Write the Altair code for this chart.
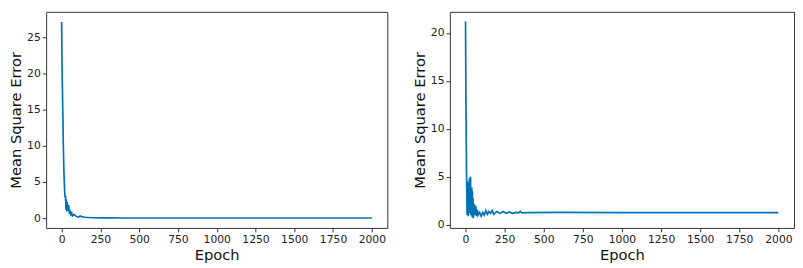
import altair as alt
import pandas as pd

# Left panel: Mean Square Error per epoch
left_epoch = [0, 2, 5, 8, 11, 14, 17, 20, 22, 25, 28, 30, 33, 36, 40, 45, 50, 55,
              60, 65, 70, 80, 90, 100, 110, 120, 130, 150, 200, 250, 300, 400, 2000]
left_mse = [27.1, 22.0, 18.0, 14.0, 10.0, 7.0, 5.0, 3.5, 2.8, 3.1, 1.2, 2.6, 0.9,
            2.2, 1.0, 1.8, 0.6, 0.9, 0.5, 0.7, 0.3, 0.5, 0.3, 0.2, 0.15, 0.3, 0.2,
            0.12, 0.05, 0.03, 0.02, 0.01, 0.01]

# Right panel
right_epoch = [0, 2, 4, 6, 8, 10, 12, 14, 16, 18, 20, 22, 24, 26, 28, 30, 32, 34,
               36, 38, 40, 42, 44, 46, 48, 50, 55, 60, 65, 70, 75, 80, 90, 100, 110,
               120, 130, 140, 150, 160, 170, 180, 200, 220, 240, 260, 280, 300, 320,
               340, 350, 360, 400, 600, 1000, 2000]
right_mse = [21.2, 14.5, 10.0, 6.0, 3.0, 1.0, 4.2, 1.5, 4.5, 0.9, 4.0, 1.8, 4.8,
             1.2, 4.9, 2.0, 5.0, 1.0, 3.8, 1.5, 3.9, 0.8, 3.5, 1.0, 2.8, 0.7, 2.2,
             1.0, 2.0, 0.9, 1.6, 1.0, 1.3, 0.9, 1.3, 1.0, 1.5, 1.1, 1.4, 1.2, 1.5,
             1.1, 1.4, 1.2, 1.4, 1.2, 1.35, 1.2, 1.3, 1.25, 1.4, 1.25, 1.28, 1.3,
             1.28, 1.28]

x_ticks = [0, 250, 500, 750, 1000, 1250, 1500, 1750, 2000]
left_y_ticks = [0, 5, 10, 15, 20, 25]
right_y_ticks = [0, 5, 10, 15, 20]

COLOR = "#0173b2"


def panel(epochs, values, ydomain, yticks, width):
    df = pd.DataFrame({"Epoch": epochs, "MSE": values})
    return alt.Chart(df).mark_line(color=COLOR, strokeWidth=1.7).encode(
        x=alt.X("Epoch:Q", title="Epoch",
                scale=alt.Scale(domain=[-100, 2100], nice=False, zero=False),
                axis=alt.Axis(values=x_ticks, format="d")),
        y=alt.Y("MSE:Q", title="Mean Square Error",
                scale=alt.Scale(domain=ydomain, nice=False, zero=False),
                axis=alt.Axis(values=yticks, format="d")),
        order="Epoch:Q",
    ).properties(width=width, height=221)


left = panel(left_epoch, left_mse, [-1.36, 28.5], left_y_ticks, 349)
right = panel(right_epoch, right_mse, [-0.32, 22.2], right_y_ticks, 352)

chart = alt.hconcat(left, right, spacing=24).properties(padding=0).configure_view(
    stroke="#333", strokeWidth=1
).configure_axis(
    grid=False, domain=False, ticks=True, tickColor="#333", tickSize=4,
    labelFont="DejaVu Sans", labelFontSize=11, labelColor="#222",
    titleFont="DejaVu Sans", titleFontSize=15, titleFontWeight="normal",
    titleColor="#111", labelPadding=2,
).configure_axisY(titlePadding=3).configure_axisX(titlePadding=3)

chart.save("out.html", embed_options={"renderer": "svg", "actions": False})
